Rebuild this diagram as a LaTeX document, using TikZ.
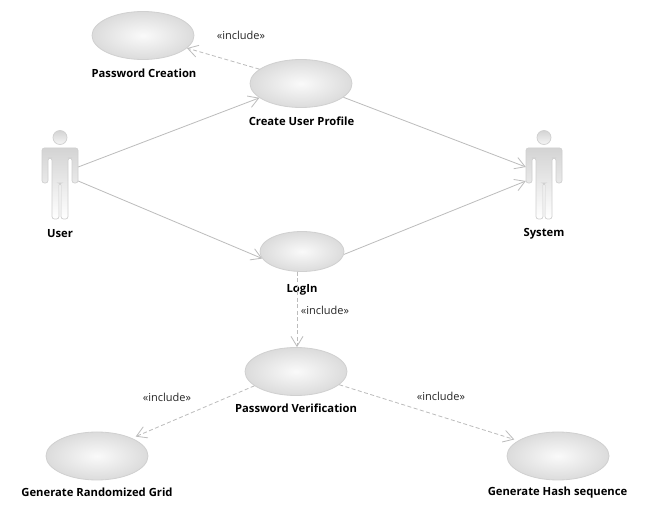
\documentclass[tikz,border=0pt]{standalone}
\usepackage{fontspec}
\setmainfont{Open Sans}
\usetikzlibrary{shapes.geometric,arrows.meta}
\definecolor{linegray}{HTML}{BCBCBC}
\definecolor{rimgray}{HTML}{D0D0D0}
\tikzset{
  usecase/.style={ellipse,draw=rimgray,line width=0.8pt,inner color=white!98!black,outer color=black!14,inner sep=0pt,minimum width=#1,minimum height=48pt},
  usecase/.default=102pt,
  actorbox/.style={rectangle,inner sep=0pt,minimum width=36pt,minimum height=88pt},
  uclabel/.style={font=\fontsize{11.25}{13}\selectfont\bfseries,text=black,inner sep=0pt},
  stereo/.style={font=\fontsize{11}{13}\selectfont,text=black!85,inner sep=0pt},
  assoc/.style={draw=linegray,line width=0.8pt,-{Straight Barb[length=10pt,width=12pt,line width=0.8pt]}},
  incl/.style={assoc,dash pattern=on 4pt off 2.5pt},
  actorfig/.style={draw=rimgray,line width=0.7pt,top color=black!17,bottom color=white}
}
\newcommand{\actorshape}[1]{%
  \begin{scope}[shift={(#1.center)}]
  \path[actorfig,rounded corners=2.5pt]
    (-18,8) -- (-18,-27) -- (18,-27) -- (18,8) -- (12,8) -- (12,-17) -- (8,-17) -- (8,44) -- (1,44) -- (1,8) -- (-1,8) -- (-1,44) -- (-8,44) -- (-8,-17) -- (-12,-17) -- (-12,8) -- cycle;
  \path[draw=rimgray,line width=0.7pt,top color=black!17,bottom color=black!4] (0,-37.5) circle[radius=7pt];
  \end{scope}
}
\begin{document}
\begin{tikzpicture}[x=1pt,y=-1pt]
\useasboundingbox (0,0) rectangle (649,513);
\fill[white] (0,0) rectangle (649,513);
\node[usecase] (pc) at (143,35.5) {};
\node[usecase] (cu) at (301,83.5) {};
\node[usecase=84pt,minimum height=40pt] (li) at (302,251.5) {};
\node[usecase] (pv) at (296,371.5) {};
\node[usecase] (gg) at (97,456) {};
\node[usecase] (gh) at (558,456) {};
\node[actorbox] (user) at (60,175) {};
\node[actorbox] (sys) at (544,175) {};
\actorshape{user}
\actorshape{sys}
\node[uclabel] (lpc) at (144,73.5) {Password Creation};
\node[uclabel] (lcu) at (301.5,121.5) {Create User Profile};
\node[uclabel] (luser) at (60,234) {User};
\node[uclabel] (lsys) at (544,234) {System};
\node[uclabel] (lli) at (302,290) {LogIn};
\node[uclabel] (lpv) at (296,408) {Password Verification};
\node[uclabel] (lgg) at (97,492.5) {Generate Randomized Grid};
\node[uclabel] (lgh) at (557.5,492.5) {Generate Hash sequence};
\node[stereo] (s1) at (241,35) {«include»};
\node[stereo] (s2) at (325,310) {«include»};
\node[stereo] (s3) at (167,397) {«include»};
\node[stereo] (s4) at (441,396) {«include»};
\coordinate (u1) at ([yshift=8pt]user.east);
\coordinate (u2) at ([yshift=-6pt]user.east);
\coordinate (s1in) at ([yshift=8pt]sys.west);
\coordinate (s2in) at ([yshift=-6pt]sys.west);
\draw[assoc] (u1) -- (cu.199);
\draw[assoc] (u2) -- (li.190);
\draw[assoc] (cu.-18) -- (s1in);
\draw[assoc] (li.-4) -- (s2in);
\draw[incl] (cu.161) -- (pc.-16.5);
\draw[incl] (li.south -| 297,0) -- (pv.north -| 297,0);
\draw[incl,shorten >=4pt] (pv.199) -- (gg.27);
\draw[incl,shorten >=4pt] (pv.-17.6) -- (gh.159);
\end{tikzpicture}
\end{document}
